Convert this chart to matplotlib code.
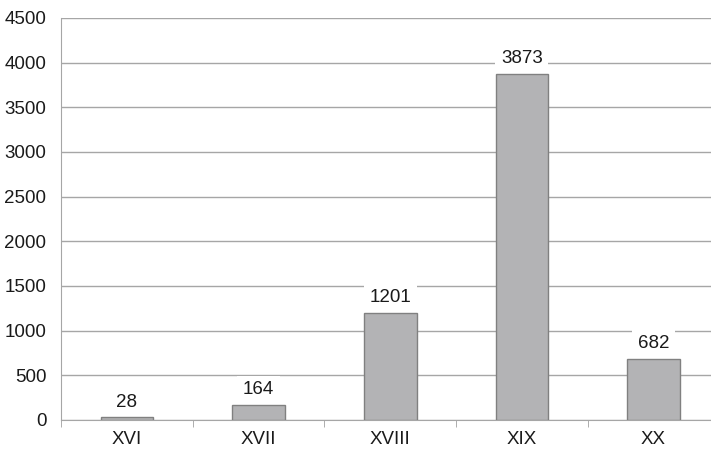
import matplotlib
matplotlib.use("Agg")
import matplotlib.pyplot as plt
import numpy as np

categories = ["XVI", "XVII", "XVIII", "XIX", "XX"]
values = [28, 164, 1201, 3873, 682]
yticks = [0, 500, 1000, 1500, 2000, 2500, 3000, 3500, 4000, 4500]

plt.rcParams['font.family'] = ['Liberation Sans', 'DejaVu Sans']

fig = plt.figure(figsize=(7.11, 4.54), dpi=100)
ax = fig.add_axes([61/711, 34/454, (719.4-61)/711, (420-18)/454])

x = np.arange(len(categories))
ax.bar(x, values, width=0.40, color='#b3b3b5', edgecolor='#808080', linewidth=1, zorder=3)
ax.set_xlim(-0.5, len(categories) - 0.5)
ax.set_ylim(0, 4500)
ax.set_yticks(yticks)
ax.set_yticklabels([str(t) for t in yticks], fontsize=13.5, color='#1a1a1a')
ax.set_xticks(x)
ax.set_xticklabels(categories, fontsize=13.5, color='#1a1a1a')
ax.set_xticks(np.arange(len(categories) + 1) - 0.5, minor=True)
ax.tick_params(axis='x', which='major', length=0, pad=8)
ax.tick_params(axis='x', which='minor', length=5, color='#a0a0a0', direction='out')
ax.tick_params(axis='y', length=0, pad=10.5)

ax.yaxis.grid(True, color='#a6a6a6', linewidth=1, zorder=0)
for s in ['top', 'right']:
    ax.spines[s].set_visible(False)
ax.spines['left'].set_color('#a6a6a6')
ax.spines['bottom'].set_color('#a6a6a6')

for xi, v in zip(x, values):
    ax.annotate(str(v), (xi, v), xytext=(0, 5), textcoords='offset points',
                ha='center', va='bottom', fontsize=13.5, color='#1a1a1a',
                bbox=dict(boxstyle='square,pad=0.3', facecolor='white', edgecolor='none'),
                zorder=4)

fig.savefig("out.png", dpi=100)
